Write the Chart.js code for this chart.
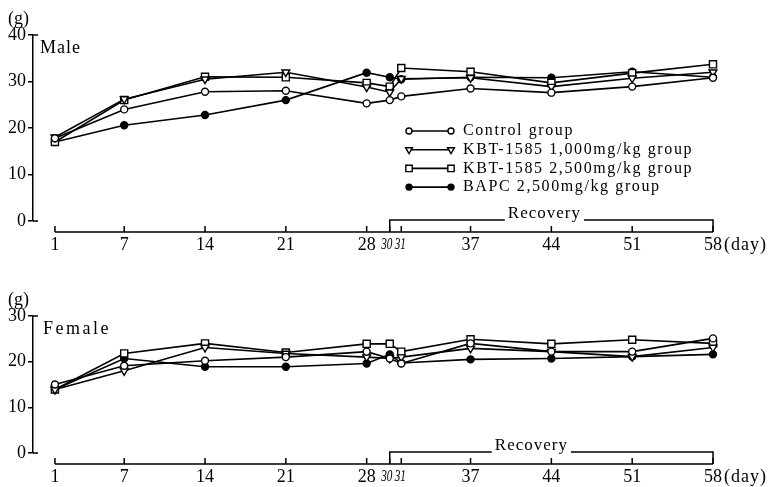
<!DOCTYPE html>
<html>
<head>
<meta charset="utf-8">
<script src="https://cdn.jsdelivr.net/npm/chart.js@4.4.0/dist/chart.umd.min.js"></script>
<style>
    body { margin: 0; background: #fff; }
    #wrap { position: relative; width: 773px; height: 487px; }
    canvas { position: absolute; left: 0; }
</style>
</head>
<body>
<div id="wrap">
    <canvas id="femaleChart" width="773" height="237" style="top:250px"></canvas>
    <canvas id="maleChart" width="773" height="262" style="top:0"></canvas>
</div>
<script>
// days of measurement (x axis)
const days = [1, 7, 14, 21, 28, 30, 31, 37, 44, 51, 58];
const narrowDays = [30, 31];
const recoveryStart = 30;
const recoveryEnd = 58;

const groupLabels = ['Control group', 'KBT-1585 1,000mg/kg group', 'KBT-1585 2,500mg/kg group', 'BAPC 2,500mg/kg group'];

// body weight (g), male
const maleControl = [17.8, 24.0, 27.8, 28.0, 25.3, 26.0, 26.8, 28.5, 27.6, 28.9, 30.8];
const maleKbt1000 = [18.0, 26.2, 30.5, 32.0, 28.8, 27.7, 30.6, 30.8, 28.9, 30.7, 32.0];
const maleKbt2500 = [17.0, 26.0, 31.0, 30.9, 29.7, 28.9, 32.9, 32.1, 29.7, 31.8, 33.7];
const maleBapc = [17.0, 20.6, 22.8, 26.0, 31.9, 30.9, 30.5, 30.9, 30.8, 32.1, 30.9];

// body weight (g), female
const femaleControl = [15.0, 19.1, 20.2, 21.0, 22.2, 20.7, 19.6, 24.0, 22.2, 22.2, 25.1];
const femaleKbt1000 = [13.9, 18.0, 23.1, 21.8, 21.0, 20.7, 21.0, 22.9, 22.2, 21.1, 23.1];
const femaleKbt2500 = [13.9, 21.8, 24.0, 22.0, 23.9, 23.9, 22.2, 24.9, 23.9, 24.8, 24.0];
const femaleBapc = [13.9, 20.7, 18.9, 18.9, 19.6, 21.6, 19.7, 20.5, 20.7, 21.1, 21.6];

const maleYTicks = [0, 10, 20, 30, 40];
const femaleYTicks = [0, 10, 20, 30];

const serif = '"Liberation Serif", "DejaVu Serif", serif';

const markers = [
    { pointStyle: 'circle', radius: 3.5, fill: '#fff', rotation: 0 },
    { pointStyle: 'triangle', radius: 4.5, fill: '#fff', rotation: 180 },
    { pointStyle: 'rect', radius: 5, fill: '#fff', rotation: 0 },
    { pointStyle: 'circle', radius: 3.5, fill: '#000', rotation: 0 },
];

const makeDataset = (values, i) => ({
    label: groupLabels[i],
    data: days.map((d, k) => ({ x: d, y: values[k] })),
    borderColor: '#000',
    borderWidth: 1.6,
    pointStyle: markers[i].pointStyle,
    pointRadius: markers[i].radius,
    pointRotation: markers[i].rotation,
    pointBackgroundColor: markers[i].fill,
    pointBorderColor: '#000',
    pointBorderWidth: 1.4,
    tension: 0,
    clip: false,
});

// axes frame, recovery bracket, titles and legend
const frame = {
    id: 'frame',
    afterDraw(chart, args, o) {
        const { ctx, chartArea, scales: { x, y } } = chart;
        const base = chartArea.bottom + 11;
        ctx.save();
        ctx.strokeStyle = '#000';
        ctx.fillStyle = '#000';
        ctx.lineWidth = 1.5;

        // y axis caps
        ctx.beginPath();
        ctx.moveTo(chartArea.left, chartArea.top);
        ctx.lineTo(chartArea.left + 5, chartArea.top);
        ctx.moveTo(chartArea.left, chartArea.bottom);
        ctx.lineTo(chartArea.left + 5, chartArea.bottom);
        ctx.stroke();

        // day axis
        ctx.beginPath();
        ctx.moveTo(x.getPixelForValue(days[0]), base);
        ctx.lineTo(x.getPixelForValue(days[days.length - 1]), base);
        days.forEach(d => {
            const px = x.getPixelForValue(d);
            ctx.moveTo(px, base);
            ctx.lineTo(px, base - 6);
        });
        ctx.stroke();

        // condensed labels for the close days 30 and 31
        ctx.font = 'italic 16px ' + serif;
        ctx.textAlign = 'center';
        ctx.textBaseline = 'middle';
        narrowDays.forEach((d, k) => {
            ctx.save();
            ctx.translate(x.getPixelForValue(d) + (k === 0 ? -3 : -1), base + 13);
            ctx.scale(0.7, 1);
            ctx.fillText(String(d), 0, 0);
            ctx.restore();
        });

        // recovery bracket
        const rl = x.getPixelForValue(recoveryStart);
        const rr = x.getPixelForValue(recoveryEnd);
        const top = chartArea.bottom - 1;
        ctx.font = '17px ' + serif;
        ctx.letterSpacing = '1px';
        const tw = ctx.measureText('Recovery').width;
        const tc = (rl + rr) / 2 + o.textShift;
        ctx.beginPath();
        ctx.moveTo(rl, base);
        ctx.lineTo(rl, top);
        ctx.lineTo(tc - tw / 2 - 3, top);
        ctx.moveTo(tc + tw / 2 + 3, top);
        ctx.lineTo(rr, top);
        ctx.lineTo(rr, base);
        ctx.stroke();
        ctx.textAlign = 'center';
        ctx.textBaseline = 'alphabetic';
        ctx.fillText('Recovery', tc, top - 2);

        // "(day)" after last tick label
        ctx.textAlign = 'left';
        ctx.textBaseline = 'middle';
        ctx.font = '18px ' + serif;
        ctx.fillText('(day)', rr + 11, base + 13);

        // unit and panel title
        ctx.letterSpacing = '0px';
        ctx.fillText('(g)', 8, chartArea.top - 16);
        ctx.font = '18px ' + serif;
        ctx.letterSpacing = o.titleSpacing;
        ctx.textBaseline = 'alphabetic';
        ctx.fillText(o.title, o.titleX, chartArea.top + 18);

        // legend
        if (o.legend) {
            ctx.font = '16px ' + serif;
            ctx.letterSpacing = '1.6px';
            chart.data.datasets.forEach((ds, i) => {
                const ly = 131 + i * 18.7;
                ctx.lineWidth = 1.6;
                ctx.beginPath();
                ctx.moveTo(409, ly);
                ctx.lineTo(451, ly);
                ctx.stroke();
                ctx.lineWidth = 1.4;
                ctx.fillStyle = markers[i].fill;
                [409, 451].forEach(px => Chart.helpers.drawPoint(ctx, {
                    pointStyle: markers[i].pointStyle,
                    radius: markers[i].radius - 0.5,
                    rotation: markers[i].rotation,
                    borderWidth: 1.4,
                }, px, ly));
                ctx.fillStyle = '#000';
                ctx.textBaseline = 'middle';
                ctx.fillText(ds.label, 463, ly);
            });
        }
        ctx.restore();
    }
};

const makeChart = (id, series, yMax, yTicks, top, opts) => {
    return new Chart(document.getElementById(id), {
        type: 'line',
        data: { datasets: series.map(makeDataset) },
        options: {
            responsive: false,
            animation: false,
            layout: { padding: { top: top, right: 60, bottom: 0, left: 0 } },
            plugins: { legend: { display: false }, tooltip: { enabled: false }, frame: opts },
            scales: {
                x: {
                    type: 'linear',
                    min: -0.9,
                    max: 58,
                    afterBuildTicks: scale => { scale.ticks = days.map(v => ({ value: v })); },
                    afterFit: scale => { scale.height = opts.xHeight; },
                    grid: { display: false, drawTicks: false },
                    border: { display: false },
                    ticks: {
                        autoSkip: false,
                        maxRotation: 0,
                        padding: 13,
                        color: '#000',
                        font: { family: serif, size: 18 },
                        callback: v => narrowDays.includes(v) ? '' : String(v),
                    },
                },
                y: {
                    min: 0,
                    max: yMax,
                    afterBuildTicks: scale => { scale.ticks = yTicks.map(v => ({ value: v })); },
                    afterFit: scale => { scale.width = 33; },
                    grid: { drawOnChartArea: false, drawTicks: true, tickLength: 5, color: '#000', lineWidth: 1.5 },
                    border: { display: true, color: '#000', width: 1.5 },
                    ticks: { color: '#000', padding: 2, font: { family: serif, size: 18 } },
                },
            },
        },
        plugins: [frame],
    });
};

makeChart('maleChart', [maleControl, maleKbt1000, maleKbt2500, maleBapc], 40, maleYTicks, 35,
    { title: 'Male', titleX: 40, titleSpacing: '1px', legend: true, textShift: -7, xHeight: 41 });

makeChart('femaleChart', [femaleControl, femaleKbt1000, femaleKbt2500, femaleBapc], 30, femaleYTicks, 66,
    { title: 'Female', titleX: 43, titleSpacing: '2.5px', legend: false, textShift: -20, xHeight: 34 });
</script>
</body>
</html>
